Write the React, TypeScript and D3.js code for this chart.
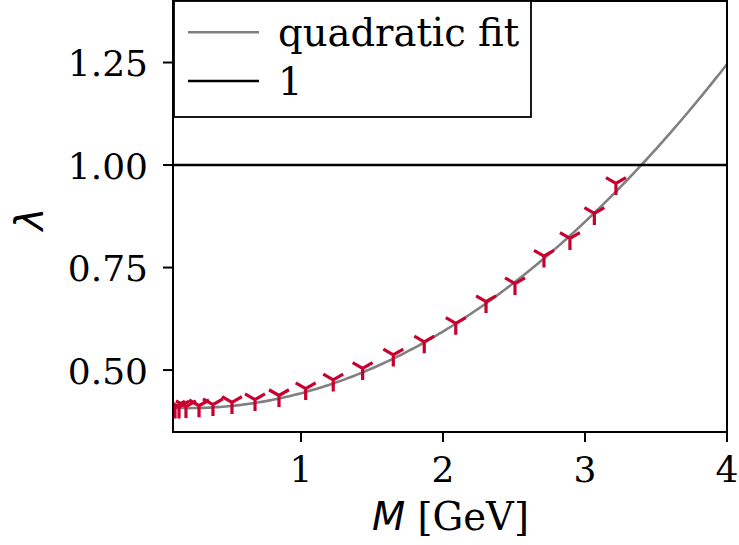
import React from "react";
import * as d3 from "d3";

// Data
const massValues: number[] = [
  0.113, 0.141, 0.19, 0.282, 0.38, 0.514, 0.676, 0.845,
  1.033, 1.227, 1.434, 1.65, 1.868, 2.09, 2.303, 2.507, 2.711, 2.894, 3.066, 3.218,
];
const lambdaValues: number[] = [
  0.41, 0.41, 0.411, 0.413, 0.416, 0.421, 0.428, 0.438,
  0.455, 0.476, 0.504, 0.537, 0.569, 0.614, 0.667, 0.711, 0.778, 0.821, 0.882, 0.955,
];
// quadratic fit coefficients: lambda = c0 + c1*M + c2*M^2
const fitCoefficients: number[] = [0.41, -0.025, 0.0585];
const xTicks: number[] = [1, 2, 3, 4];
const yTicks: number[] = [0.5, 0.75, 1.0, 1.25];
const legendLabels: string[] = ["quadratic fit", "1"];

const W = 739;
const H = 545;
const left = 173;
const right = 727;
const top = 1;
const bottom = 432;

export default function App() {
  const x = d3.scaleLinear().domain([0.0986, 4]).range([left, right]);
  const y = d3.scaleLinear().domain([0.349, 1.4]).range([bottom, top]);

  const fitX = d3.range(0, 201).map((i) => 0.0986 + ((4 - 0.0986) * i) / 200);
  const fitPts: [number, number][] = fitX.map((m) => [
    m,
    fitCoefficients[0] + fitCoefficients[1] * m + fitCoefficients[2] * m * m,
  ]);
  const line = d3
    .line<[number, number]>()
    .x((d) => x(d[0]))
    .y((d) => y(d[1]));

  const r = 11.5;
  const tri = `M0,0L0,${r}M0,0L${-0.866 * r},${-0.5 * r}M0,0L${0.866 * r},${-0.5 * r}`;
  const serif = "'DejaVu Serif', serif";
  const sans = "'DejaVu Sans', sans-serif";
  const fsTick = 36;
  const fs = 38.5;

  return (
    <svg
      width={W}
      height={H}
      style={{ position: "absolute", left: 0, top: 0, background: "#fff" }}
      xmlns="http://www.w3.org/2000/svg"
    >
      <defs>
        <clipPath id="plotclip">
          <rect x={left} y={top} width={right - left} height={bottom - top} />
        </clipPath>
      </defs>
      <rect x={0} y={0} width={W} height={H} fill="#fff" />
      <g clipPath="url(#plotclip)">
        <path d={line(fitPts) || ""} fill="none" stroke="#808080" strokeWidth={2.6} />
        <line x1={left} x2={right} y1={y(1)} y2={y(1)} stroke="#000" strokeWidth={2.6} />
        {massValues.map((m, i) => (
          <path
            key={i}
            d={tri}
            transform={`translate(${x(m)},${y(lambdaValues[i])})`}
            fill="none"
            stroke="#c8002f"
            strokeWidth={3.2}
          />
        ))}
      </g>
      {/* spines */}
      <rect
        x={left}
        y={top}
        width={right - left}
        height={bottom - top}
        fill="none"
        stroke="#000"
        strokeWidth={2}
      />
      {/* x ticks */}
      {xTicks.map((t) => (
        <g key={t}>
          <line x1={x(t)} x2={x(t)} y1={bottom} y2={bottom + 10} stroke="#000" strokeWidth={2} />
          <text
            x={x(t)}
            y={481.5}
            textAnchor="middle"
            fontFamily={serif}
            fontSize={fsTick}
            fill="#000"
          >
            {String(t)}
          </text>
        </g>
      ))}
      {/* y ticks */}
      {yTicks.map((t) => (
        <g key={t}>
          <line x1={left - 10} x2={left} y1={y(t)} y2={y(t)} stroke="#000" strokeWidth={2} />
          <text
            x={148}
            y={y(t) + 13.5}
            textAnchor="end"
            fontFamily={serif}
            fontSize={fsTick}
            fill="#000"
          >
            {t.toFixed(2)}
          </text>
        </g>
      ))}
      {/* axis labels */}
      <text
        x={(left + right) / 2 + 0.5}
        y={530}
        textAnchor="middle"
        fontSize={fs}
        fill="#000"
      >
        <tspan fontFamily={sans} fontStyle="italic">M</tspan>
        <tspan fontFamily={serif}> [GeV]</tspan>
      </text>
      <text
        transform="translate(43,219) rotate(-90)"
        textAnchor="middle"
        fontFamily={sans}
        fontStyle="italic"
        fontSize={fs}
        fill="#000"
      >
        λ
      </text>
      {/* legend */}
      <rect x={174} y={1} width={357} height={116} fill="#fff" stroke="#000" strokeWidth={1.8} />
      {legendLabels.map((lab, i) => {
        const ly = 32.3 + i * 48.7;
        return (
          <g key={lab}>
            <line
              x1={188}
              x2={259}
              y1={ly}
              y2={ly}
              stroke={i === 0 ? "#808080" : "#000"}
              strokeWidth={2.6}
            />
            <text x={278} y={ly + 13.5} fontFamily={serif} fontSize={fs} fill="#000">
              {lab}
            </text>
          </g>
        );
      })}
    </svg>
  );
}
